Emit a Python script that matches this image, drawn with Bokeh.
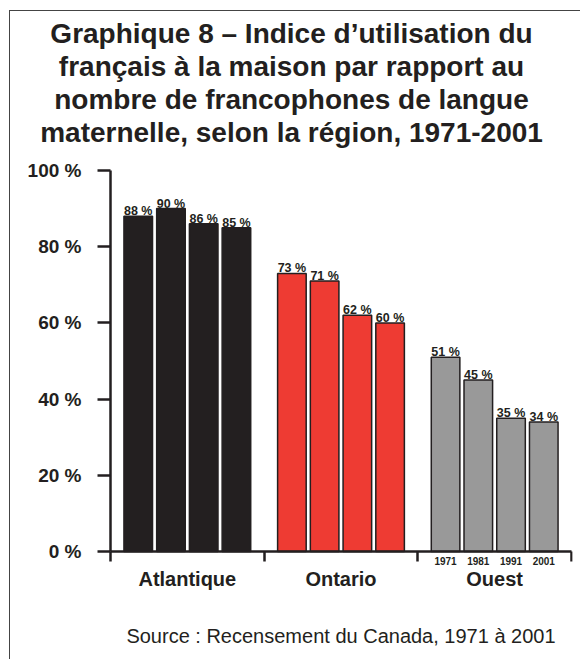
from bokeh.plotting import figure
from bokeh.models import Range1d, FixedTicker, LinearAxis, Title, ColumnDataSource
from bokeh.embed import file_html
from bokeh.resources import INLINE
from bokeh.core.properties import value

# ---- data ----
regions = ["Atlantique", "Ontario", "Ouest"]
years = ["1971", "1981", "1991", "2001"]
atlantique = [88, 90, 86, 85]
ontario = [73, 71, 62, 60]
ouest = [51, 45, 35, 34]
y_ticks = [0, 20, 40, 60, 80, 100]
y_tick_labels = ["0 %", "20 %", "40 %", "60 %", "80 %", "100 %"]
title_lines = [
    "Graphique 8 \u2013 Indice d\u2019utilisation du",
    "fran\u00e7ais \u00e0 la maison par rapport au",
    "nombre de francophones de langue",
    "maternelle, selon la r\u00e9gion, 1971-2001",
]
source_text = "Source : Recensement du Canada, 1971 \u00e0 2001"
region_colors = ["#231F20", "#EE3B33", "#999999"]

FONT = "Liberation Sans"
TXT = "#231F20"

pitch = 0.213
bar_w = 0.186
offsets = [(i - 1.5) * pitch for i in range(len(years))]

xs, tops, fills, labels = [], [], [], []
for g, vals in enumerate([atlantique, ontario, ouest]):
    for i, v in enumerate(vals):
        xs.append(g + 0.5 + offsets[i])
        tops.append(v)
        fills.append(region_colors[g])
        labels.append(f"{v} %")
src = ColumnDataSource(dict(x=xs, top=tops, fill=fills, label=labels))

n = len(regions)
ymax = max(y_ticks)
p = figure(width=571, height=649, output_backend="svg", toolbar_location=None,
           x_range=Range1d(-0.6507, n + 0.0065), y_range=Range1d(-28.61, 103.94),
           min_border_left=0, min_border_right=9, min_border_top=144,
           min_border_bottom=0)
p.styles = {"border-top": "1px solid #444444", "border-left": "1px solid #444444"}
p.margin = (10, 0, 0, 9)
p.outline_line_color = None
p.xgrid.visible = False
p.ygrid.visible = False

p.vbar(x="x", top="top", bottom=0, width=bar_w, source=src, fill_color="fill",
       line_color="#231F20", line_width=1.5)
p.text(x="x", y="top", text="label", source=src, text_align="center",
       text_baseline="alphabetic", y_offset=-5, text_font=value(FONT),
       text_font_style="bold", text_font_size="12.5px", text_color=TXT)

# y axis, pinned at x = 0
ya = p.yaxis[0]
ya.fixed_location = 0
ya.bounds = (0, ymax)
ya.ticker = FixedTicker(ticks=y_ticks)
ya.major_label_overrides = {t: l for t, l in zip(y_ticks, y_tick_labels)}
ya.major_tick_out = 13
ya.major_tick_in = 0
ya.minor_tick_line_color = None
ya.major_tick_line_width = 2.5
ya.major_tick_line_color = TXT
ya.axis_line_width = 2.5
ya.axis_line_color = TXT
ya.major_label_standoff = 16
ya.major_label_text_font = FONT
ya.major_label_text_font_style = "bold"
ya.major_label_text_font_size = "19px"
ya.major_label_text_color = TXT

# x axis pinned at y = 0: year labels under the last region, group boundary ticks
year_ticks = [n - 0.5 + o for o in offsets]
xa = p.xaxis[0]
xa.fixed_location = 0
xa.bounds = (0, n)
xa.ticker = FixedTicker(ticks=year_ticks, minor_ticks=list(range(n + 1)))
xa.major_label_overrides = {float(t): y for t, y in zip(year_ticks, years)}
xa.major_tick_line_color = None
xa.major_tick_out = 0
xa.major_tick_in = 0
xa.minor_tick_out = 10
xa.minor_tick_in = 0
xa.minor_tick_line_width = 2.5
xa.minor_tick_line_color = TXT
xa.axis_line_width = 2.5
xa.axis_line_color = TXT
xa.major_label_standoff = -4
xa.major_label_text_font = FONT
xa.major_label_text_font_style = "bold"
xa.major_label_text_font_size = "10px"
xa.major_label_text_color = TXT

group_ticks = [g + 0.5 for g in range(n)]
ga = LinearAxis(ticker=FixedTicker(ticks=group_ticks), bounds=(0, n), fixed_location=0,
                major_label_overrides={float(t): r for t, r in zip(group_ticks, regions)})
ga.axis_line_color = None
ga.major_tick_line_color = None
ga.minor_tick_line_color = None
ga.major_tick_out = 0
ga.major_tick_in = 0
ga.major_label_standoff = 17
ga.major_label_text_font = FONT
ga.major_label_text_font_style = "bold"
ga.major_label_text_font_size = "20px"
ga.major_label_text_color = TXT
ga.axis_label = source_text
ga.axis_label_standoff = 31
ga.axis_label_text_font = FONT
ga.axis_label_text_font_style = "normal"
ga.axis_label_text_font_size = "20px"
ga.axis_label_text_color = TXT
p.add_layout(ga, "below")

# title: a small spacer next to the plot, then lines from the bottom one up
p.add_layout(Title(text=" ", text_font_size="5px", standoff=0), "above")
for line in reversed(title_lines):
    t = Title(text=line, align="center", text_font=FONT, text_font_style="bold",
              text_font_size="28px", text_color=TXT, text_line_height=1.18,
              standoff=0)
    p.add_layout(t, "above")

open("out.html", "w").write(file_html(p, INLINE))
